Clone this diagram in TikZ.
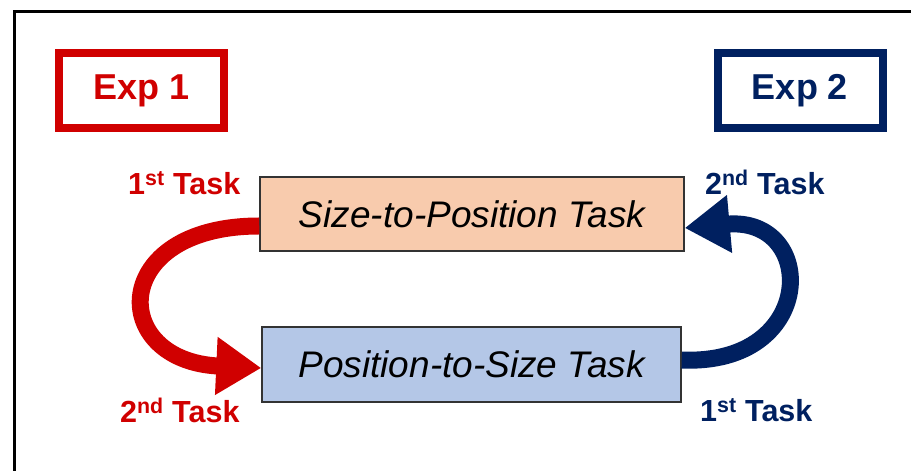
\documentclass[tikz,border=0pt]{standalone}
\usepackage{fontspec}
\setmainfont{Liberation Sans}
\usetikzlibrary{arrows.meta}
\definecolor{expred}{RGB}{208,0,0}
\definecolor{expnavy}{RGB}{0,32,96}
\definecolor{peach}{RGB}{248,203,173}
\definecolor{lightblue}{RGB}{180,199,231}
\tikzset{
  expbox/.style={draw, line width=8pt, minimum width=165pt, minimum height=75pt, inner sep=0pt, font=\fontsize{36}{40}\selectfont\bfseries},
  taskbox/.style={draw=black!80, line width=1.5pt, inner sep=0pt, font=\fontsize{37}{42}\selectfont\itshape},
  tasklabel/.style={anchor=base west, inner sep=0pt, font=\fontsize{30.5}{34}\selectfont\bfseries},
  bigarrow/.style={line width=17pt, -{Triangle[width=55pt,length=45pt]}}
}
\begin{document}
\begin{tikzpicture}[x=1pt,y=1pt]
\useasboundingbox (0,0) rectangle (911,471);
\coordinate (ftop) at (911,459);
\coordinate (fcorner) at (14,459);
\coordinate (fbot) at (14,0);
\draw[line width=3pt] (ftop) -- (fcorner) -- (fbot);
\node[expbox, draw=expred, text=expred] (exp1) at (141.5,380.5) {Exp 1};
\node[expbox, draw=expnavy, text=expnavy] (exp2) at (800,380.5) {Exp 2};
\node[taskbox, fill=peach, minimum width=424pt, minimum height=74pt] (sp) at (472,257) {Size-to-Position Task};
\node[taskbox, fill=lightblue, minimum width=419pt, minimum height=75pt] (ps) at (471.5,106.5) {Position-to-Size Task};
\node[tasklabel, text=expred] (r1) at (128,276) {1\textsuperscript{st} Task};
\node[tasklabel, text=expred] (r2) at (120,48) {2\textsuperscript{nd} Task};
\node[tasklabel, text=expnavy] (n2) at (705,276) {2\textsuperscript{nd} Task};
\node[tasklabel, text=expnavy] (n1) at (700,49) {1\textsuperscript{st} Task};
\draw[bigarrow, expred] ([yshift=-12pt]sp.west) .. controls (108,245) and (108,110) .. ([yshift=-3.5pt]ps.west);
\draw[bigarrow, expnavy] ([yshift=4.5pt]ps.east) .. controls (818,105) and (818,255) .. ([yshift=-14pt]sp.east);
\end{tikzpicture}
\end{document}
